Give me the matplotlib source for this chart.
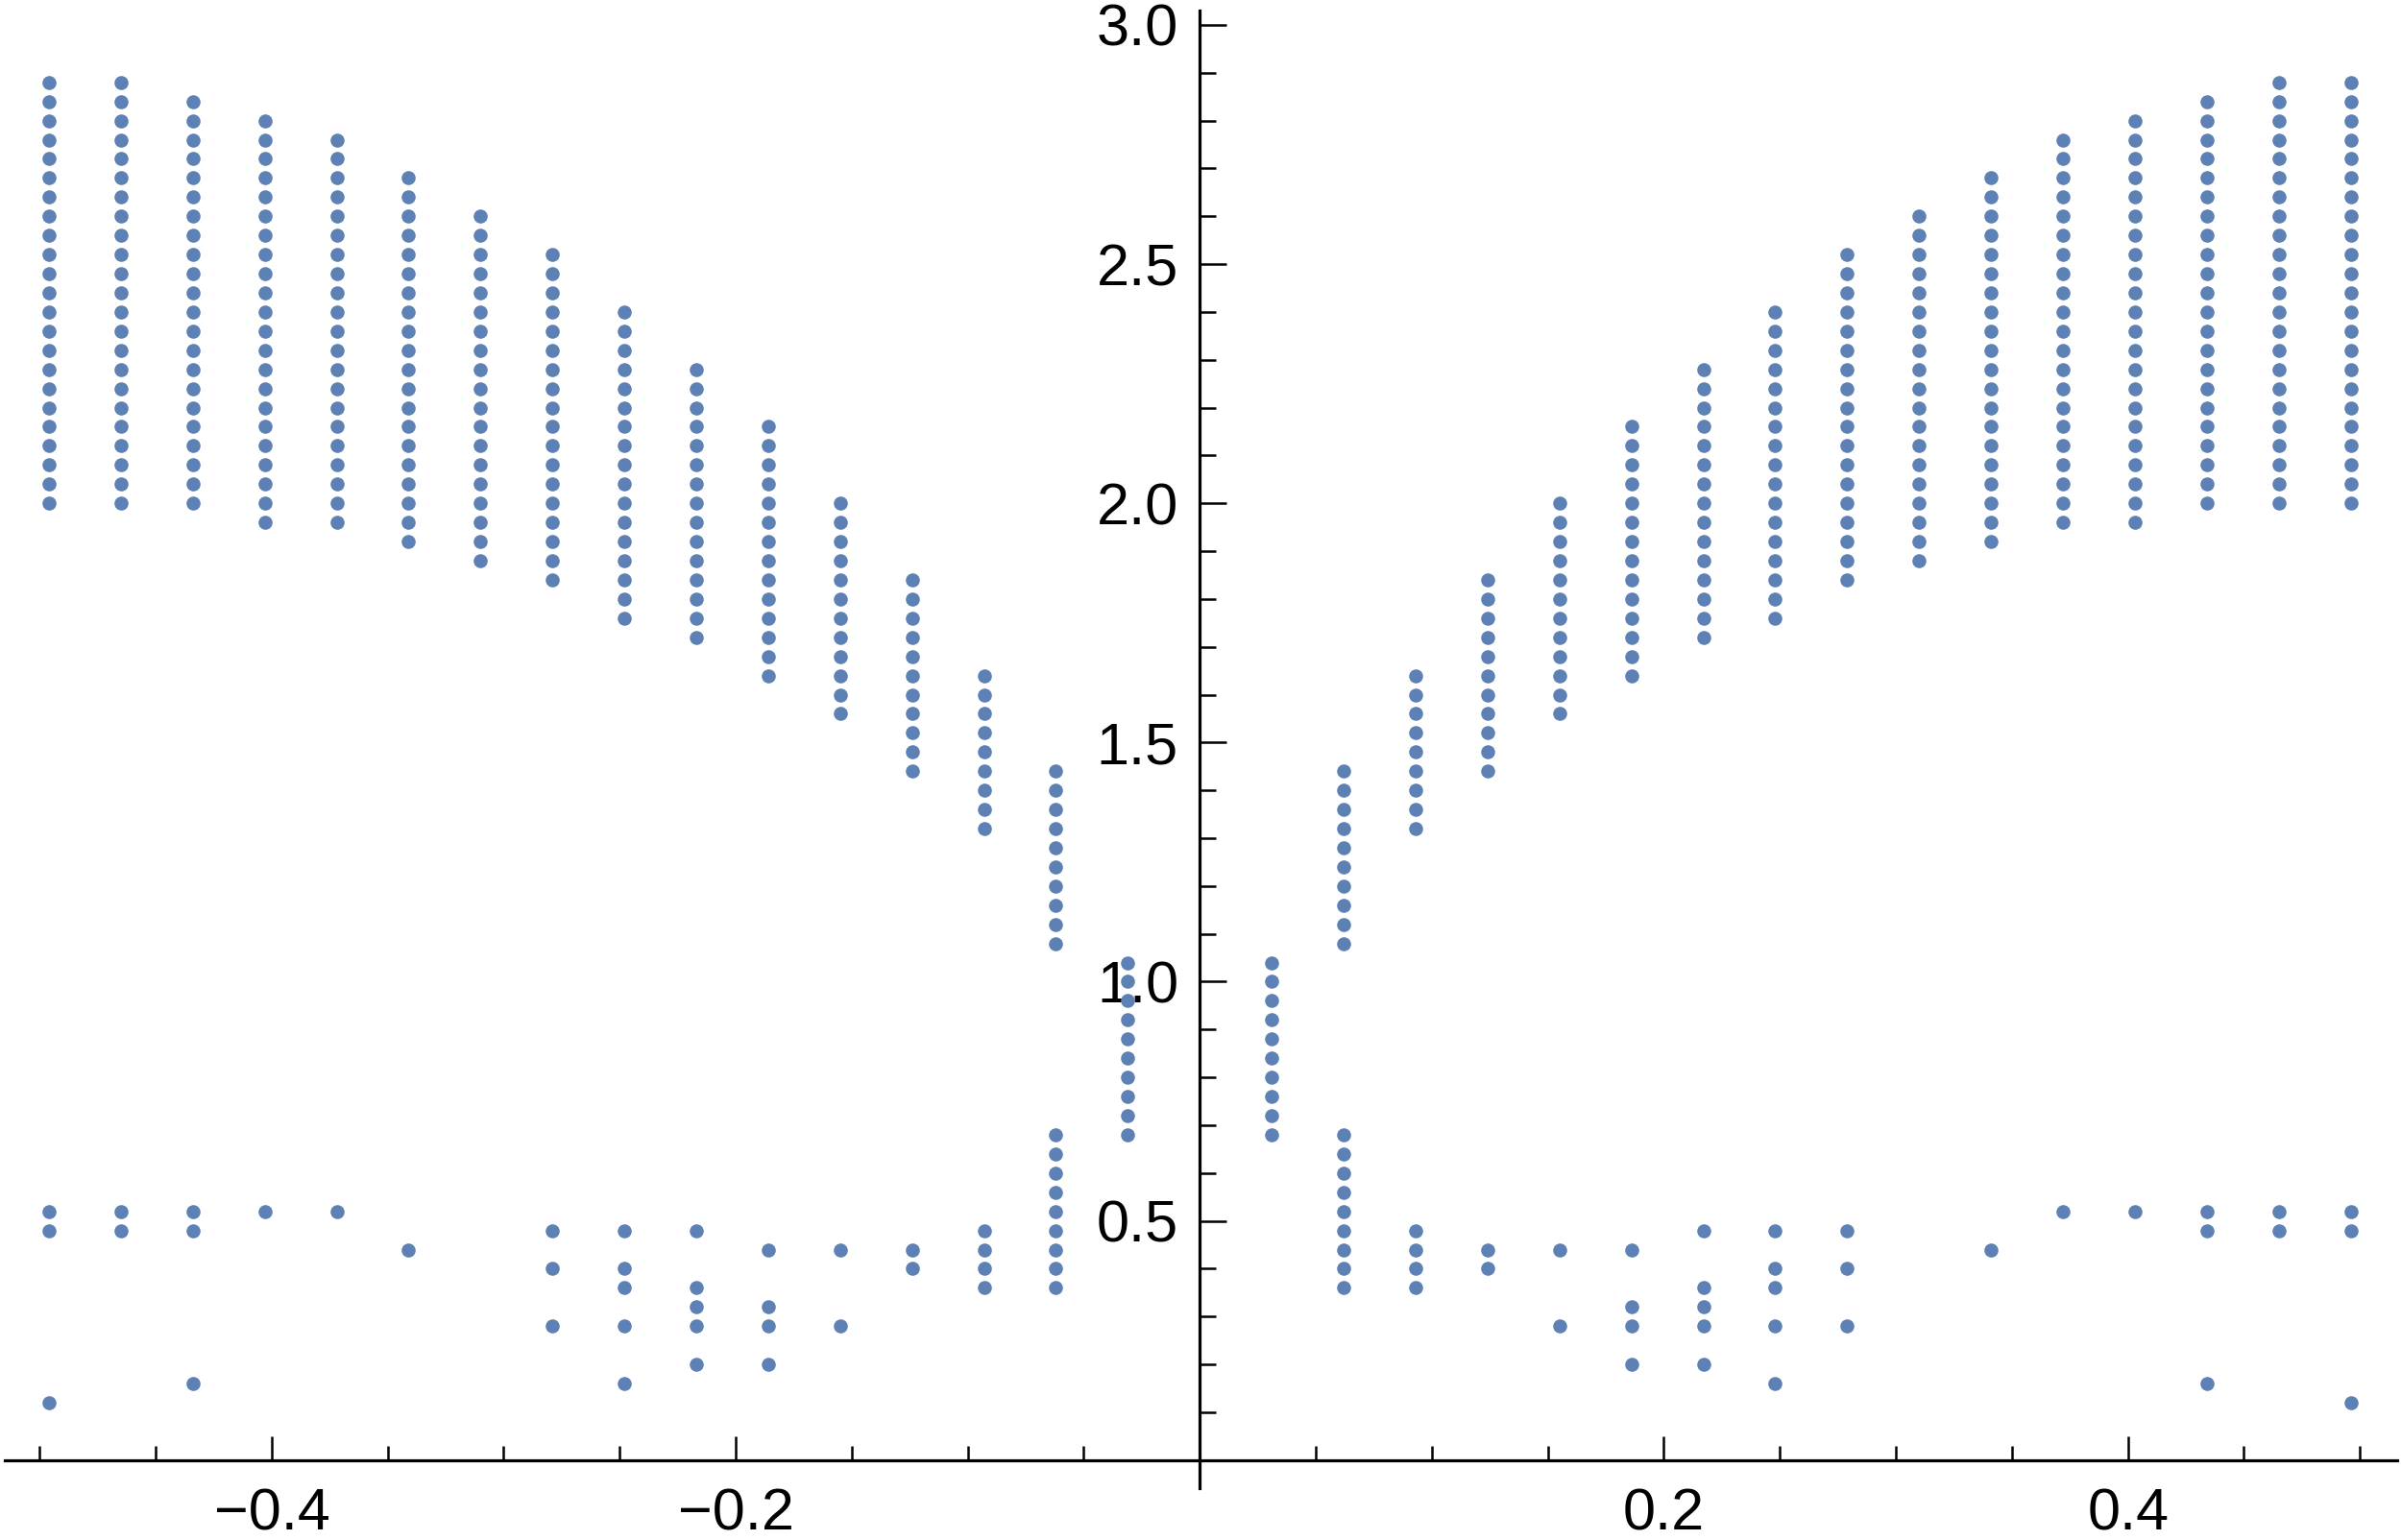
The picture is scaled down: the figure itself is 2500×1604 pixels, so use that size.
import matplotlib
matplotlib.use("Agg")
import matplotlib.pyplot as plt
import numpy as np
from matplotlib.ticker import FixedLocator, FixedFormatter

# column positions and the y values in each column, in hundredths
left_x = [-0.496, -0.465, -0.434, -0.403, -0.372, -0.341, -0.31, -0.279,
          -0.248, -0.217, -0.186, -0.155, -0.124, -0.093, -0.062, -0.031]
left_y = [
    [12, 48, 52, 200, 204, 208, 212, 216, 220, 224, 228, 232, 236, 240, 244, 248, 252, 256, 260, 264, 268, 272, 276, 280, 284, 288],
    [48, 52, 200, 204, 208, 212, 216, 220, 224, 228, 232, 236, 240, 244, 248, 252, 256, 260, 264, 268, 272, 276, 280, 284, 288],
    [16, 48, 52, 200, 204, 208, 212, 216, 220, 224, 228, 232, 236, 240, 244, 248, 252, 256, 260, 264, 268, 272, 276, 280, 284],
    [52, 196, 200, 204, 208, 212, 216, 220, 224, 228, 232, 236, 240, 244, 248, 252, 256, 260, 264, 268, 272, 276, 280],
    [52, 196, 200, 204, 208, 212, 216, 220, 224, 228, 232, 236, 240, 244, 248, 252, 256, 260, 264, 268, 272, 276],
    [44, 192, 196, 200, 204, 208, 212, 216, 220, 224, 228, 232, 236, 240, 244, 248, 252, 256, 260, 264, 268],
    [188, 192, 196, 200, 204, 208, 212, 216, 220, 224, 228, 232, 236, 240, 244, 248, 252, 256, 260],
    [28, 40, 48, 184, 188, 192, 196, 200, 204, 208, 212, 216, 220, 224, 228, 232, 236, 240, 244, 248, 252],
    [16, 28, 36, 40, 48, 176, 180, 184, 188, 192, 196, 200, 204, 208, 212, 216, 220, 224, 228, 232, 236, 240],
    [20, 28, 32, 36, 48, 172, 176, 180, 184, 188, 192, 196, 200, 204, 208, 212, 216, 220, 224, 228],
    [20, 28, 32, 44, 164, 168, 172, 176, 180, 184, 188, 192, 196, 200, 204, 208, 212, 216],
    [28, 44, 156, 160, 164, 168, 172, 176, 180, 184, 188, 192, 196, 200],
    [40, 44, 144, 148, 152, 156, 160, 164, 168, 172, 176, 180, 184],
    [36, 40, 44, 48, 132, 136, 140, 144, 148, 152, 156, 160, 164],
    [36, 40, 44, 48, 52, 56, 60, 64, 68, 108, 112, 116, 120, 124, 128, 132, 136, 140, 144],
    [68, 72, 76, 80, 84, 88, 92, 96, 100, 104],
]

right_x = [0.031, 0.062, 0.093, 0.124, 0.155, 0.186, 0.217, 0.248,
           0.279, 0.31, 0.341, 0.372, 0.403, 0.434, 0.465, 0.496]
right_y = [
    [68, 72, 76, 80, 84, 88, 92, 96, 100, 104],
    [36, 40, 44, 48, 52, 56, 60, 64, 68, 108, 112, 116, 120, 124, 128, 132, 136, 140, 144],
    [36, 40, 44, 48, 132, 136, 140, 144, 148, 152, 156, 160, 164],
    [40, 44, 144, 148, 152, 156, 160, 164, 168, 172, 176, 180, 184],
    [28, 44, 156, 160, 164, 168, 172, 176, 180, 184, 188, 192, 196, 200],
    [20, 28, 32, 44, 164, 168, 172, 176, 180, 184, 188, 192, 196, 200, 204, 208, 212, 216],
    [20, 28, 32, 36, 48, 172, 176, 180, 184, 188, 192, 196, 200, 204, 208, 212, 216, 220, 224, 228],
    [16, 28, 36, 40, 48, 176, 180, 184, 188, 192, 196, 200, 204, 208, 212, 216, 220, 224, 228, 232, 236, 240],
    [28, 40, 48, 184, 188, 192, 196, 200, 204, 208, 212, 216, 220, 224, 228, 232, 236, 240, 244, 248, 252],
    [188, 192, 196, 200, 204, 208, 212, 216, 220, 224, 228, 232, 236, 240, 244, 248, 252, 256, 260],
    [44, 192, 196, 200, 204, 208, 212, 216, 220, 224, 228, 232, 236, 240, 244, 248, 252, 256, 260, 264, 268],
    [52, 196, 200, 204, 208, 212, 216, 220, 224, 228, 232, 236, 240, 244, 248, 252, 256, 260, 264, 268, 272, 276],
    [52, 196, 200, 204, 208, 212, 216, 220, 224, 228, 232, 236, 240, 244, 248, 252, 256, 260, 264, 268, 272, 276, 280],
    [16, 48, 52, 200, 204, 208, 212, 216, 220, 224, 228, 232, 236, 240, 244, 248, 252, 256, 260, 264, 268, 272, 276, 280, 284],
    [48, 52, 200, 204, 208, 212, 216, 220, 224, 228, 232, 236, 240, 244, 248, 252, 256, 260, 264, 268, 272, 276, 280, 284, 288],
    [12, 48, 52, 200, 204, 208, 212, 216, 220, 224, 228, 232, 236, 240, 244, 248, 252, 256, 260, 264, 268, 272, 276, 280, 284, 288],
]

x_tick_values = [-0.4, -0.2, 0.2, 0.4]
x_tick_labels = ["\u22120.4", "\u22120.2", "0.2", "0.4"]
y_tick_values = [0.5, 1.0, 1.5, 2.0, 2.5, 3.0]
y_tick_labels = ["0.5", "1.0", "1.5", "2.0", "2.5", "3.0"]

plt.rcParams['font.family'] = ['Liberation Sans', 'DejaVu Sans']

fig = plt.figure(figsize=(25, 16.04), dpi=100)
ax = fig.add_axes([0, 0, 1, 1])

dot_color = '#5E81B5'
for xs, cols in ((left_x, left_y), (right_x, right_y)):
    for x, ys in zip(xs, cols):
        yv = np.array(ys) / 100.0
        ax.scatter(np.full(len(yv), x), yv, s=110, color=dot_color,
                   linewidths=0, zorder=3)

ax.set_xlim(-0.5171, 0.5177)
ax.set_ylim(-0.167, 3.052)
ax.patch.set_visible(False)

# Mathematica style axes crossing at the origin
for side in ('top', 'right'):
    ax.spines[side].set_visible(False)
ax.spines['left'].set_position(('data', 0))
ax.spines['bottom'].set_position(('data', 0))
ax.spines['left'].set_bounds(-0.058, 3.03)
ax.spines['bottom'].set_bounds(-0.515, 0.516)
for side in ('left', 'bottom'):
    ax.spines[side].set_linewidth(2.3)
    ax.spines[side].set_color('black')

ax.xaxis.set_major_locator(FixedLocator(x_tick_values))
ax.xaxis.set_major_formatter(FixedFormatter(x_tick_labels))
x_minor = [v for v in np.round(np.arange(-0.5, 0.501, 0.05), 2)
           if abs(v) > 1e-9 and v not in x_tick_values]
ax.xaxis.set_minor_locator(FixedLocator(x_minor))

ax.yaxis.set_major_locator(FixedLocator(y_tick_values))
ax.yaxis.set_major_formatter(FixedFormatter(y_tick_labels))
y_minor = [v for v in np.round(np.arange(0.1, 2.95, 0.1), 2)
           if v not in y_tick_values]
ax.yaxis.set_minor_locator(FixedLocator(y_minor))

ax.tick_params(axis='x', which='major', direction='in', length=18, width=1.8,
               labelsize=44, pad=21)
ax.tick_params(axis='x', which='minor', direction='in', length=10.5, width=1.8)
ax.tick_params(axis='y', which='major', direction='in', length=20, width=1.8,
               labelsize=44, pad=16)
ax.tick_params(axis='y', which='minor', direction='in', length=12, width=1.8)

fig.savefig('out.png', dpi=100)
